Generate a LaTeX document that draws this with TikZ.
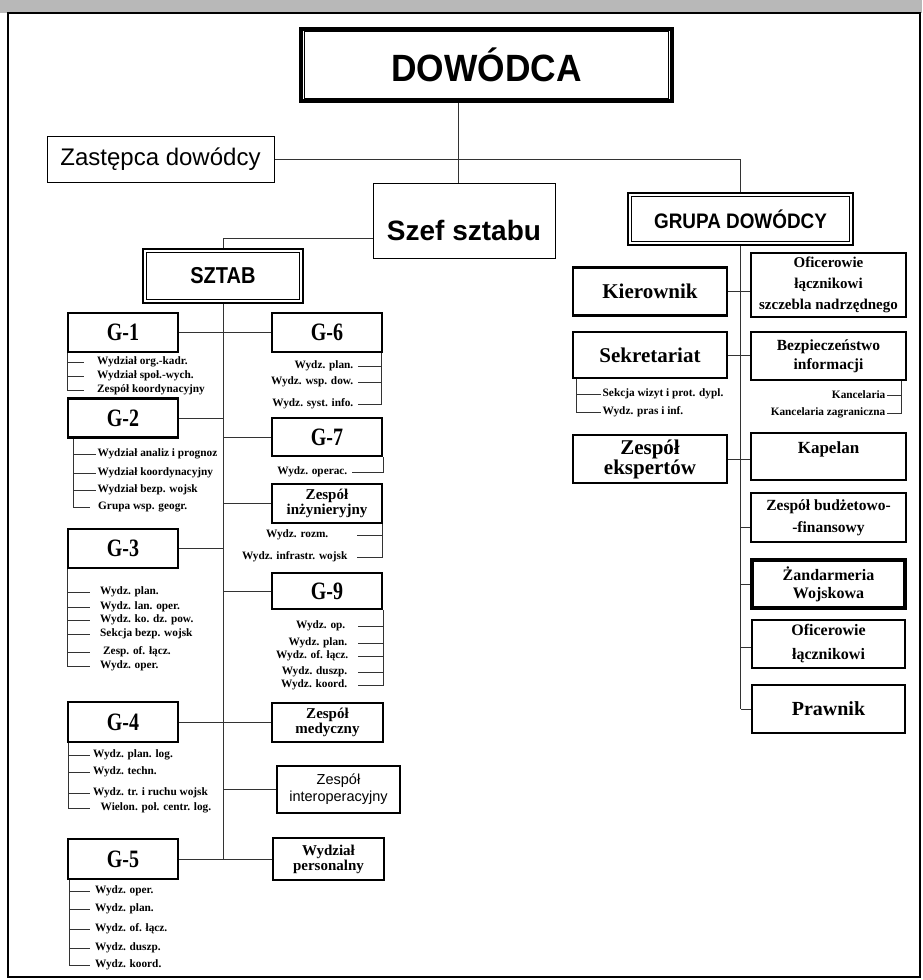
\documentclass[tikz,border=0pt]{standalone}
\usepackage{fontspec}
\usepackage{graphicx}
\setmainfont{Liberation Serif}
\setsansfont{Liberation Sans}
\newcommand\fsz[2]{\fontsize{#1}{#2}\selectfont}
\newcommand\sqz[2]{\scalebox{#1}[1]{#2}}
\tikzset{
 conn/.style={line width=0.8pt, draw=black!80},
 bx/.style={draw, line width=2.6pt, inner sep=0pt, align=center, font=\bfseries\fsz{15}{17}},
 tbx/.style={draw, line width=1pt, inner sep=0pt},
 gbx/.style={bx, minimum width=110, minimum height=39, font=\bfseries\fsz{25}{25}},
 rbx/.style={bx, minimum width=155, minimum height=48},
 lbx/.style={bx, minimum width=154, minimum height=48, font=\bfseries\fsz{21}{20}},
 subit/.style={inner sep=1.5pt, font=\bfseries\fsz{11.3}{12}},
 lbl/.style={inner sep=0pt},
}
\begin{document}
\begin{tikzpicture}[x=1pt,y=-1pt]
\useasboundingbox (0,0) rectangle (922,980);
\fill[black!28] (0,0) rectangle (922,13);
\draw[line width=1.5pt] (8,13) rectangle (920,977);

% --- top ---
\node[draw, line width=4.5pt, minimum width=371, minimum height=72, inner sep=0pt,
      font=\sffamily\bfseries\fsz{38}{38}] (dow) at (486.5,65) {\sqz{0.93}{DOWÓDCA}};
\draw[line width=0.9pt] ([shift={(6,5)}]dow.north west) rectangle ([shift={(-6,-5)}]dow.south east);

\node[tbx, minimum width=227, minimum height=46, font=\sffamily\fsz{24}{24}] (zas) at (160.5,159) {Zastępca dowódcy};

\node[tbx, minimum width=182, minimum height=75] (szef) at (464,220.5) {};
\node[lbl, font=\sffamily\bfseries\fsz{28}{28}] (szeft) at (464,230) {Szef sztabu};

\coordinate (cv) at (458,0);
\draw[conn] (dow.south -| cv) -- (szef.north -| cv);

\node[draw, line width=2.8pt, minimum width=225, minimum height=52, inner sep=0pt,
      font=\sffamily\bfseries\fsz{21}{21}] (grupa) at (740.5,219) {\sqz{0.9}{GRUPA DOWÓDCY}};
\draw[line width=0.9pt] ([shift={(5,5)}]grupa.north west) rectangle ([shift={(-5,-5)}]grupa.south east);
\draw[conn] (zas.east) -| (grupa.north);

\node[draw, line width=2.8pt, minimum width=160, minimum height=54, inner sep=0pt,
      font=\sffamily\bfseries\fsz{23}{23}] (sztab) at (223,276) {\sqz{0.87}{SZTAB}};
\draw[line width=0.9pt] ([shift={(5,5)}]sztab.north west) rectangle ([shift={(-5,-5)}]sztab.south east);
\draw[conn] ([shift={(0,17.5)}]szef.west) -| (sztab.north);

% --- right column (GRUPA DOWODCY) ---
\node[lbx] (kier) at (650,291.5) {Kierownik};
\node[rbx, minimum height=64, font=\bfseries\fsz{15}{21}] (ofic1) at (828.5,285) {Oficerowie\\łącznikowi\\szczebla nadrzędnego};
\node[lbx, minimum height=46] (sekr) at (650,355) {Sekretariat};
\node[rbx, font=\bfseries\fsz{15.5}{19}] (bezp) at (828.5,356) {Bezpieczeństwo\\informacji};
\node[lbx] (zeksp) at (650,459) {Zespół\\ekspertów};
\node[rbx, minimum height=47] (kap) at (828.5,456.5) {};
\node[lbl, font=\bfseries\fsz{17}{17}] (kapt) at (828.5,449) {Kapelan};
\node[rbx, minimum height=49, font=\bfseries\fsz{15.5}{22}] (budz) at (828.5,517.5) {Zespół budżetowo-\\-finansowy};
\node[rbx, minimum width=153, line width=3.2pt, font=\bfseries\fsz{16}{18}] (zand) at (828.5,584) {Żandarmeria\\Wojskowa};
\node[rbx, minimum width=153, font=\bfseries\fsz{16}{24}] (ofic2) at (828.5,644) {Oficerowie\\łącznikowi};
\node[rbx, minimum width=153, font=\bfseries\fsz{20}{20}] (praw) at (828.5,709) {Prawnik};

\draw[conn] (grupa.south) -- (grupa.south |- praw.west);
\draw[conn] (kier.east) -- (kier.east -| ofic1.west);
\draw[conn] (sekr.east) -- (sekr.east -| bezp.west);
\draw[conn] (zeksp.east) -- (zeksp.east -| kap.west);
\draw[conn] ([shift={(0,9.5)}]budz.west) -- ([shift={(0,9.5)}]budz.west -| grupa.south);
\draw[conn] (zand.west) -- (zand.west -| grupa.south);
\draw[conn] ([shift={(0,3)}]ofic2.west) -- ([shift={(0,3)}]ofic2.west -| grupa.south);
\draw[conn] (praw.west) -- (praw.west -| grupa.south);

\node[subit, anchor=west] (sk1) at (601,394) {Sekcja wizyt i prot. dypl.};
\node[subit, anchor=west] (sk2) at (601,412) {Wydz. pras i inf.};
\coordinate (sb) at ([shift={(5,0)}]sekr.south west);
\draw[conn] (sb) |- (sk2.west);
\draw[conn] (sb |- sk1.west) -- (sk1.west);

\node[subit, anchor=east] (kan1) at (887,395) {Kancelaria};
\node[subit, anchor=east] (kan2) at (887,413) {Kancelaria zagraniczna};
\coordinate (kb) at ([shift={(-6,0)}]bezp.south east);
\draw[conn] (kb) |- (kan2.east);
\draw[conn] (kb |- kan1.east) -- (kan1.east);

% --- staff tree ---
\node[gbx] (g1) at (123,332.5) {\sqz{0.8}{G-1}};
\node[gbx] (g2) at (123,418) {\sqz{0.8}{G-2}};
\node[gbx] (g3) at (123,548.5) {\sqz{0.8}{G-3}};
\node[gbx, minimum height=40] (g4) at (123,722) {\sqz{0.8}{G-4}};
\node[gbx, minimum height=40] (g5) at (123,859) {\sqz{0.8}{G-5}};
\node[gbx] (g6) at (327,332.5) {\sqz{0.8}{G-6}};
\node[gbx, minimum height=38] (g7) at (327,437) {\sqz{0.8}{G-7}};
\node[gbx, font=\bfseries\fsz{15}{15}] (zinz) at (327,503.5) {Zespół\\inżynieryjny};
\node[gbx, minimum height=36] (g9) at (327,591) {\sqz{0.8}{G-9}};
\node[gbx, minimum width=111, font=\bfseries\fsz{15}{15}] (zmed) at (327.5,722.5) {Zespół\\medyczny};
\node[bx, minimum width=123, minimum height=47, font=\sffamily\fsz{14.5}{17}] (zint) at (338.5,789.5) {Zespół\\interoperacyjny};
\node[gbx, minimum width=111, minimum height=42, font=\bfseries\fsz{15}{15}] (wpers) at (328.5,859) {Wydział\\personalny};

\draw[conn] (sztab.south) -- (sztab.south |- g5.east);
\draw[conn] (g1.east) -- (g6.west);
\draw[conn] (g2.east) -- (g2.east -| sztab.south);
\draw[conn] (g7.west) -- (g7.west -| sztab.south);
\draw[conn] (zinz.west) -- (zinz.west -| sztab.south);
\draw[conn] (g3.east) -- (g3.east -| sztab.south);
\draw[conn] (g9.west) -- (g9.west -| sztab.south);
\draw[conn] (g4.east) -- (g4.east -| zmed.west);
\draw[conn] (zint.west) -- (zint.west -| sztab.south);
\draw[conn] (g5.east) -- (g5.east -| wpers.west);

% G-1 items
\node[subit, anchor=west] (i1a) at (95.5,362) {Wydział org.-kadr.};
\node[subit, anchor=west] (i1b) at (95.5,376) {Wydział społ.-wych.};
\node[subit, anchor=west] (i1c) at (95.5,390) {Zespół koordynacyjny};
\coordinate (b1) at ([shift={(1,0)}]g1.south west);
\coordinate (t1) at (84,0);
\draw[conn] (b1) |- (t1 |- i1c.west);
\draw[conn] (b1 |- i1a.west) -- (t1 |- i1a.west);
\draw[conn] (b1 |- i1b.west) -- (t1 |- i1b.west);

% G-2 items
\node[subit, anchor=west] (i2a) at (96,454) {Wydział analiz i prognoz};
\node[subit, anchor=west] (i2b) at (96,473) {Wydział koordynacyjny};
\node[subit, anchor=west] (i2c) at (96,490) {Wydział bezp. wojsk};
\node[subit, anchor=west] (i2d) at (96.5,507) {Grupa wsp. geogr.};
\coordinate (b2) at ([shift={(7,0)}]g2.south west);
\coordinate (t2) at (96,0);
\coordinate (t2d) at (90,0);
\draw[conn] (b2) |- (t2d |- i2d.west);
\draw[conn] (b2 |- i2a.west) -- (t2 |- i2a.west);
\draw[conn] (b2 |- i2b.west) -- (t2 |- i2b.west);
\draw[conn] (b2 |- i2c.west) -- (t2 |- i2c.west);

% G-3 items
\node[subit, anchor=west] (i3a) at (98.5,592) {Wydz. plan.};
\node[subit, anchor=west] (i3b) at (98.5,607) {Wydz. lan. oper.};
\node[subit, anchor=west] (i3c) at (98.5,620) {Wydz. ko. dz. pow.};
\node[subit, anchor=west] (i3d) at (98.5,634) {Sekcja bezp. wojsk};
\node[subit, anchor=west] (i3e) at (101.5,652) {Zesp. of. łącz.};
\node[subit, anchor=west] (i3f) at (98.5,666) {Wydz. oper.};
\coordinate (b3) at ([shift={(1,0)}]g3.south west);
\coordinate (t3) at (90,0);
\draw[conn] (b3) |- (t3 |- i3f.west);
\foreach \n in {i3a,i3b,i3c,i3d,i3e} \draw[conn] (b3 |- \n.west) -- (t3 |- \n.west);

% G-4 items
\node[subit, anchor=west] (i4a) at (91.5,755) {Wydz. plan. log.};
\node[subit, anchor=west] (i4b) at (91.5,772) {Wydz. techn.};
\node[subit, anchor=west] (i4c) at (91.5,793) {Wydz. tr. i ruchu wojsk};
\node[subit, anchor=west] (i4d) at (99,808) {Wielon. poł. centr. log.};
\coordinate (b4) at ([shift={(2,0)}]g4.south west);
\coordinate (t4) at (90,0);
\draw[conn] (b4) |- (t4 |- i4d.west);
\foreach \n in {i4a,i4b,i4c} \draw[conn] (b4 |- \n.west) -- (t4 |- \n.west);

% G-5 items
\node[subit, anchor=west] (i5a) at (93.5,891) {Wydz. oper.};
\node[subit, anchor=west] (i5b) at (93.5,909) {Wydz. plan.};
\node[subit, anchor=west] (i5c) at (93.5,929) {Wydz. of. łącz.};
\node[subit, anchor=west] (i5d) at (93.5,948) {Wydz. duszp.};
\node[subit, anchor=west] (i5e) at (93.5,965) {Wydz. koord.};
\coordinate (b5) at ([shift={(3,0)}]g5.south west);
\coordinate (t5) at (90,0);
\draw[conn] (b5) |- (t5 |- i5e.west);
\foreach \n in {i5a,i5b,i5c,i5d} \draw[conn] (b5 |- \n.west) -- (t5 |- \n.west);

% G-6 items
\node[subit, anchor=east] (r6a) at (355,366) {Wydz. plan.};
\node[subit, anchor=east] (r6b) at (355,382) {Wydz. wsp. dow.};
\node[subit, anchor=east] (r6c) at (355,404) {Wydz. syst. info.};
\coordinate (b6) at ([shift={(-2,0)}]g6.south east);
\coordinate (t6) at (358,0);
\draw[conn] (b6) |- (t6 |- r6c.east);
\foreach \n in {r6a,r6b} \draw[conn] (b6 |- \n.east) -- (t6 |- \n.east);

% G-7 items
\node[subit, anchor=east] (r7a) at (349,472) {Wydz. operac.};
\coordinate (b7) at (g7.south east);
\coordinate (t7) at (352,0);
\draw[conn] (b7) |- (t7 |- r7a.east);

% Zespol inzynieryjny items
\node[subit, anchor=east] (rza) at (330,535) {Wydz. rozm.};
\node[subit, anchor=east] (rzb) at (349,557) {Wydz. infrastr. wojsk};
\coordinate (bz) at ([shift={(-1,0)}]zinz.south east);
\coordinate (tz) at (357,0);
\draw[conn] (bz) |- (tz |- rzb.east);
\draw[conn] (bz |- rza.east) -- (tz |- rza.east);

% G-9 items
\node[subit, anchor=east] (r9a) at (347,626) {Wydz. op.};
\node[subit, anchor=east] (r9b) at (349,643) {Wydz. plan.};
\node[subit, anchor=east] (r9c) at (350,656) {Wydz. of. łącz.};
\node[subit, anchor=east] (r9d) at (349,672) {Wydz. duszp.};
\node[subit, anchor=east] (r9e) at (349,685) {Wydz. koord.};
\coordinate (b9) at (g9.south east);
\coordinate (t9) at (358,0);
\draw[conn] (b9) |- (t9 |- r9e.east);
\foreach \n in {r9a,r9b,r9c,r9d} \draw[conn] (b9 |- \n.east) -- (t9 |- \n.east);
\end{tikzpicture}
\end{document}
